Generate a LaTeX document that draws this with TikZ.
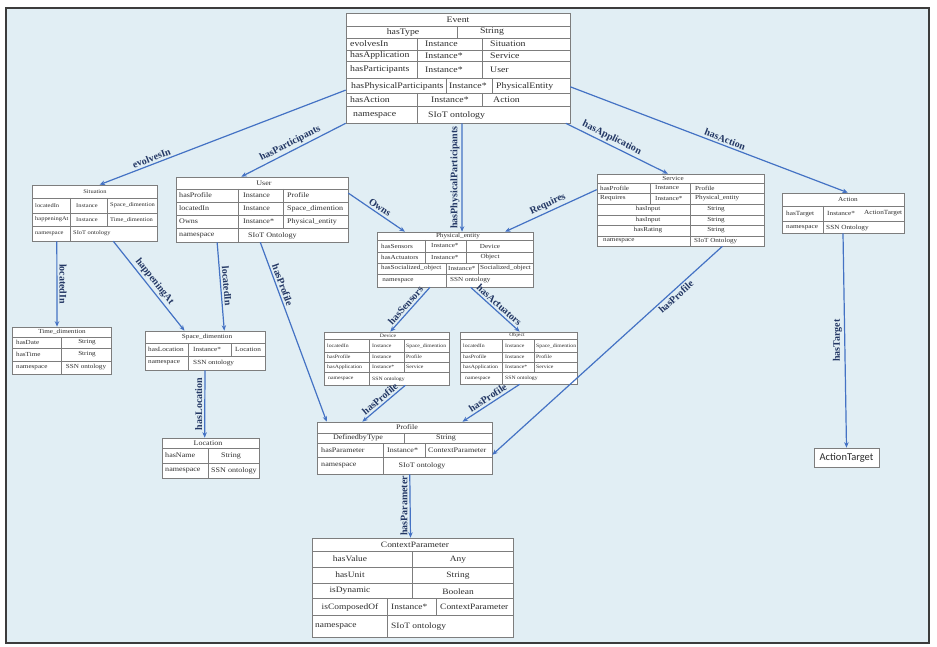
\documentclass[tikz,border=0pt]{standalone}
\usepackage{fontspec}
\setmainfont{Liberation Serif}
\newfontfamily\targetfont{Carlito}
\usetikzlibrary{calc,arrows.meta}

\definecolor{bgblue}{RGB}{225,238,244}
\definecolor{frameline}{RGB}{60,60,60}
\definecolor{tblline}{RGB}{125,125,125}
\definecolor{tbltext}{RGB}{45,45,45}
\definecolor{relblue}{RGB}{68,114,196}
\definecolor{lblnavy}{RGB}{35,55,100}

\newcommand{\tblsize}[1]{\fontsize{#1}{#1}\selectfont}

\tikzset{
  tbl/.style={draw=tblline, fill=white, line width=0.6pt, inner sep=0pt},
  sep/.style={draw=tblline, line width=0.5pt},
  cell/.style={inner sep=0pt, xscale=1.15, text=tbltext},
  rel/.style={draw=relblue, line width=1.2pt, -{Stealth[length=5.5pt,width=4.5pt]}},
  lbl/.style={font=\fontsize{10}{12}\selectfont\bfseries, text=lblnavy, inner sep=2pt}
}

\begin{document}
\begin{tikzpicture}[x=1pt,y=-1pt]
\useasboundingbox (0,0) rectangle (937,647);
\draw[frameline, line width=1.5pt, fill=bgblue] (6,8) rectangle (929,643);

% Event
\begin{scope}[font=\tblsize{8.5}]
\node[tbl, minimum width=224pt, minimum height=110pt] (event) at (458,68) {};
\foreach \y in {26,38,50,61,78,93,106}
  \draw[sep] (346,\y) -- (570,\y);
\draw[sep] (457,26) -- (457,38) (417,38) -- (417,78) (482,38) -- (482,78)
  (446,78) -- (446,93) (492,78) -- (492,93) (417,93) -- (417,123) (482,93) -- (482,106);
\node[cell] (ev-t) at (458,19.5) {Event};
\node[cell] (ev-ty) at (403,32) {hasType};
\node[cell] (ev-st) at (492,32) {String};
\foreach \y/\nm/\ty/\rg [count=\i] in {44/evolvesIn/Instance/Situation,
    55.5/hasApplication/Instance*/Service, 69.5/hasParticipants/Instance*/User}
{
  \node[cell, anchor=west] (ev-n\i) at (350,\y) {\nm};
  \node[cell, anchor=west] (ev-k\i) at (425,\y) {\ty};
  \node[cell, anchor=west] (ev-r\i) at (490,\y) {\rg};
}
\node[cell, anchor=west] (ev-n4) at (351,86) {hasPhysicalParticipants};
\node[cell, anchor=west] (ev-k4) at (449,86) {Instance*};
\node[cell, anchor=west] (ev-r4) at (496,86) {PhysicalEntity};
\node[cell, anchor=west] (ev-n5) at (350,99.5) {hasAction};
\node[cell, anchor=west] (ev-k5) at (431,99.5) {Instance*};
\node[cell, anchor=west] (ev-r5) at (493,99.5) {Action};
\node[cell, anchor=west] (ev-ns) at (353,115) {namespace};
\node[cell, anchor=west] (ev-nv) at (428,115) {SIoT ontology};
\end{scope}

% Situation
\begin{scope}[font=\tblsize{5.6}]
\node[tbl, minimum width=125pt, minimum height=56pt] (sit) at (94.5,213) {};
\foreach \y in {198,213,226}
  \draw[sep] (32,\y) -- (157,\y);
\draw[sep] (70,198) -- (70,241) (107,198) -- (107,226);
\node[cell] (sit-t) at (95,192) {Situation};
\foreach \y/\nm/\rg [count=\i] in {205.5/locatedIn/Space\_dimention, 219.5/happeningAt/Time\_dimention}
{
  \node[cell, anchor=west] (sit-n\i) at (35,\y) {\nm};
  \node[cell, anchor=west] (sit-k\i) at (76,\y) {Instance};
  \node[cell, anchor=west] (sit-r\i) at (110,\y) {\rg};
}
\node[cell, anchor=west] (sit-ns) at (35,233.5) {namespace};
\node[cell, anchor=west] (sit-nv) at (73,233.5) {SIoT ontology};
\end{scope}

% Time_dimention
\begin{scope}[font=\tblsize{6.2}]
\node[tbl, minimum width=99pt, minimum height=47pt] (tim) at (61.5,350.5) {};
\foreach \y in {337,348,361}
  \draw[sep] (12,\y) -- (111,\y);
\draw[sep] (61,337) -- (61,374);
\node[cell] (tim-t) at (62,332) {Time\_dimention};
\node[cell, anchor=west] (tim-n1) at (16,342.5) {hasDate};
\node[cell] (tim-r1) at (87,342.5) {String};
\node[cell, anchor=west] (tim-n2) at (16,354.5) {hasTime};
\node[cell] (tim-r2) at (87,354.5) {String};
\node[cell, anchor=west] (tim-ns) at (16,367.5) {namespace};
\node[cell] (tim-nv) at (86,367.5) {SSN ontology};
\end{scope}

% User
\begin{scope}[font=\tblsize{7}]
\node[tbl, minimum width=172pt, minimum height=65pt] (user) at (262,209.5) {};
\foreach \y in {189,202,215,228}
  \draw[sep] (176,\y) -- (348,\y);
\draw[sep] (238,189) -- (238,242) (283,189) -- (283,228);
\node[cell] (user-t) at (264,183) {User};
\foreach \y/\nm/\ty/\rg [count=\i] in {195.5/hasProfile/Instance/Profile,
    208.5/locatedIn/Instance/Space\_dimention, 221.5/Owns/Instance*/Physical\_entity}
{
  \node[cell, anchor=west] (user-n\i) at (179,\y) {\nm};
  \node[cell, anchor=west] (user-k\i) at (243,\y) {\ty};
  \node[cell, anchor=west] (user-r\i) at (287,\y) {\rg};
}
\node[cell, anchor=west] (user-ns) at (179,235.5) {namespace};
\node[cell, anchor=west] (user-nv) at (248,235.5) {SIoT Ontology};
\end{scope}

% Space_dimention
\begin{scope}[font=\tblsize{6.3}]
\node[tbl, minimum width=120pt, minimum height=39pt] (spc) at (205,350.5) {};
\foreach \y in {343,356}
  \draw[sep] (145,\y) -- (265,\y);
\draw[sep] (188,343) -- (188,370) (231,343) -- (231,356);
\node[cell] (spc-t) at (207,337) {Space\_dimention};
\node[cell, anchor=west] (spc-n1) at (148,349.5) {hasLocation};
\node[cell, anchor=west] (spc-k1) at (193,349.5) {Instance*};
\node[cell, anchor=west] (spc-r1) at (235,349.5) {Location};
\node[cell, anchor=west] (spc-ns) at (148,363) {namespace};
\node[cell, anchor=west] (spc-nv) at (193,363) {SSN ontology};
\end{scope}

% Location
\begin{scope}[font=\tblsize{7}]
\node[tbl, minimum width=97pt, minimum height=40pt] (loc) at (210.5,458) {};
\foreach \y in {448,463}
  \draw[sep] (162,\y) -- (259,\y);
\draw[sep] (208,448) -- (208,478);
\node[cell] (loc-t) at (208,443.5) {Location};
\node[cell, anchor=west] (loc-n1) at (165,455.5) {hasName};
\node[cell] (loc-r1) at (231,455.5) {String};
\node[cell, anchor=west] (loc-ns) at (165,470.5) {namespace};
\node[cell, anchor=west] (loc-nv) at (211,470.5) {SSN ontology};
\end{scope}

% Physical_entity
\begin{scope}[font=\tblsize{6.2}]
\node[tbl, minimum width=156pt, minimum height=55pt] (phys) at (455,259.5) {};
\foreach \y in {240,252,263,274}
  \draw[sep] (377,\y) -- (533,\y);
\draw[sep] (425,240) -- (425,263) (466,240) -- (466,263)
  (446,263) -- (446,287) (478,263) -- (478,274);
\node[cell] (phys-t) at (458,236) {Physical\_entity};
\foreach \y/\nm/\rg [count=\i] in {246/hasSensors/Device, 257.5/hasActuators/Object}
{
  \node[cell, anchor=west] (phys-n\i) at (381,\y) {\nm};
  \node[cell, anchor=west] (phys-k\i) at (431,\y) {Instance*};
  \node[cell] (phys-r\i) at (490,\y) {\rg};
}
\node[cell, anchor=west] (phys-n3) at (381,268.5) {hasSocialized\_object};
\node[cell, anchor=west] (phys-k3) at (448,268.5) {Instance*};
\node[cell, anchor=west] (phys-r3) at (480,268.5) {Socialized\_object};
\node[cell] (phys-ns) at (398,280.5) {namespace};
\node[cell, anchor=west] (phys-nv) at (450,280.5) {SSN ontology};
\end{scope}

% Service
\begin{scope}[font=\tblsize{6.2}]
\node[tbl, minimum width=167pt, minimum height=72pt] (srv) at (680.5,210) {};
\foreach \y in {183,193,204,215,225,236}
  \draw[sep] (597,\y) -- (764,\y);
\draw[sep] (650,183) -- (650,204) (690,183) -- (690,246);
\node[cell] (srv-t) at (673,178.5) {Service};
\foreach \y/\nm/\ty/\rg [count=\i] in {188/hasProfile/Instance/Profile,
    198.5/Requires/Instance*/Physical\_entity}
{
  \node[cell, anchor=west] (srv-n\i) at (600,\y) {\nm};
  \node[cell, anchor=west] (srv-k\i) at (655,\y) {\ty};
  \node[cell, anchor=west] (srv-r\i) at (695,\y) {\rg};
}
\foreach \y/\nm [count=\i] in {209.5/hasInput, 220/hasInput, 230.5/hasRating}
{
  \node[cell] (srv-d\i) at (648,\y) {\nm};
  \node[cell] (srv-s\i) at (716,\y) {String};
}
\node[cell, anchor=west] (srv-ns) at (603,241) {namespace};
\node[cell, anchor=west] (srv-nv) at (694,241) {SIoT Ontology};
\end{scope}

% Action
\begin{scope}[font=\tblsize{6.3}]
\node[tbl, minimum width=122pt, minimum height=40pt] (act) at (843,213) {};
\foreach \y in {206,221}
  \draw[sep] (782,\y) -- (904,\y);
\draw[sep] (823,206) -- (823,233);
\node[cell] (act-t) at (848,199.5) {Action};
\node[cell, anchor=west] (act-n1) at (786,213.5) {hasTarget};
\node[cell, anchor=west] (act-k1) at (827,213.5) {Instance*};
\node[cell, anchor=west] (act-r1) at (864,213.5) {ActionTarget};
\node[cell, anchor=west] (act-ns) at (786,227.5) {namespace};
\node[cell, anchor=west] (act-nv) at (826,227.5) {SSN Ontology};
\end{scope}

% ActionTarget
\node[tbl, minimum width=65pt, minimum height=19pt, font=\targetfont\fontsize{10.5}{12}\selectfont, text=tbltext]
  (tgt) at (846.5,457.5) {ActionTarget};

% Device and Object
\begin{scope}[font=\tblsize{5.0}]
\node[tbl, minimum width=125pt, minimum height=53pt] (dev) at (386.5,358.5) {};
\node[tbl, minimum width=117pt, minimum height=52pt] (obj) at (518.5,358) {};
\foreach \y in {339,352,362,372}
  \draw[sep] (324,\y) -- (449,\y) (460,\y) -- (577,\y);
\draw[sep] (369,339) -- (369,385) (404,339) -- (404,372)
  (502,339) -- (502,384) (534,339) -- (534,372);
\node[cell] (dev-t) at (388,335.5) {Device};
\node[cell] (obj-t) at (517,335.5) {Object};
\foreach \y/\nm/\ty/\rg [count=\i] in {346/locatedIn/Instance/Space\_dimention,
    357/hasProfile/Instance/Profile, 367/hasApplication/Instance*/Service}
{
  \node[cell, anchor=west] (dev-n\i) at (327,\y) {\nm};
  \node[cell, anchor=west] (dev-k\i) at (372,\y) {\ty};
  \node[cell, anchor=west] (dev-r\i) at (406,\y) {\rg};
  \node[cell, anchor=west] (obj-n\i) at (463,\y) {\nm};
  \node[cell, anchor=west] (obj-k\i) at (505,\y) {\ty};
  \node[cell, anchor=west] (obj-r\i) at (536,\y) {\rg};
}
\node[cell, anchor=west] (dev-ns) at (328,379) {namespace};
\node[cell, anchor=west] (dev-nv) at (372,379) {SSN ontology};
\node[cell, anchor=west] (obj-ns) at (465,378.5) {namespace};
\node[cell, anchor=west] (obj-nv) at (505,378.5) {SSN ontology};
\end{scope}

% Profile
\begin{scope}[font=\tblsize{7}]
\node[tbl, minimum width=175pt, minimum height=52pt] (prof) at (404.5,448) {};
\foreach \y in {433,443,457}
  \draw[sep] (317,\y) -- (492,\y);
\draw[sep] (404,433) -- (404,443) (383,443) -- (383,474) (425,443) -- (425,457);
\node[cell] (prof-t) at (407,427.5) {Profile};
\node[cell] (prof-ty) at (358,438) {DefinedbyType};
\node[cell] (prof-st) at (446,438) {String};
\node[cell, anchor=west] (prof-n1) at (321,450) {hasParameter};
\node[cell, anchor=west] (prof-k1) at (387,450) {Instance*};
\node[cell, anchor=west] (prof-r1) at (428,450) {ContextParameter};
\node[cell, anchor=west] (prof-ns) at (321,465.5) {namespace};
\node[cell] (prof-nv) at (422,465.5) {SIoT ontology};
\end{scope}

% ContextParameter
\begin{scope}[font=\tblsize{8.2}]
\node[tbl, minimum width=201pt, minimum height=99pt] (cp) at (412.5,587.5) {};
\foreach \y in {551,567,583,598,615}
  \draw[sep] (312,\y) -- (513,\y);
\draw[sep] (412,551) -- (412,598) (387,598) -- (387,637) (436,598) -- (436,615);
\node[cell] (cp-t) at (415,545) {ContextParameter};
\foreach \y/\nm/\rg [count=\i] in {559/hasValue/Any, 575/hasUnit/String, 590.5/isDynamic/Boolean}
{
  \node[cell] (cp-n\i) at (350,\y) {\nm};
  \node[cell] (cp-r\i) at (458,\y+1) {\rg};
}
\node[cell] (cp-n4) at (350,607) {isComposedOf};
\node[cell, anchor=west] (cp-k4) at (391,607) {Instance*};
\node[cell, anchor=west] (cp-r4) at (440,607) {ContextParameter};
\node[cell, anchor=west] (cp-ns) at (315,626.5) {namespace};
\node[cell, anchor=west] (cp-nv) at (391,626.5) {SIoT ontology};
\end{scope}

% relations
\draw[rel] ($(event.north west)!0.7!(event.south west)$) -- ($(sit.north west)!0.54!(sit.north east)$)
  node[lbl, pos=0.78, sloped, above] (l-evolves) {evolvesIn};
\draw[rel] (event.south west) -- ($(user.north west)!0.38!(user.north east)$)
  node[lbl, midway, sloped, above] (l-part) {hasParticipants};
\draw[rel] ($(event.south west)!0.518!(event.south east)$) -- ($(phys.north west)!0.545!(phys.north east)$)
  node[lbl, midway, rotate=90, anchor=south] (l-phys) {hasPhysicalParticipants};
\draw[rel] ($(event.south west)!0.98!(event.south east)$) -- ($(srv.north west)!0.425!(srv.north east)$)
  node[lbl, pos=0.42, sloped, above] (l-app) {hasApplication};
\draw[rel] ($(event.north east)!0.67!(event.south east)$) -- ($(act.north west)!0.54!(act.north east)$)
  node[lbl, pos=0.55, sloped, above] (l-act) {hasAction};
\draw[rel] ($(user.north east)!0.25!(user.south east)$) -- ($(phys.north west)!0.18!(phys.north east)$)
  node[lbl, midway, sloped, above] (l-owns) {Owns};
\draw[rel] ($(srv.north west)!0.22!(srv.south west)$) -- ($(phys.north west)!0.82!(phys.north east)$)
  node[lbl, midway, sloped, above] (l-req) {Requires};
\draw[rel] ($(sit.south west)!0.2!(sit.south east)$) -- ($(tim.north west)!0.455!(tim.north east)$)
  node[lbl, midway, rotate=-90, anchor=south] (l-loc1) {locatedIn};
\draw[rel] ($(sit.south west)!0.65!(sit.south east)$) -- ($(spc.north west)!0.33!(spc.north east)$)
  node[lbl, midway, sloped, above] (l-hap) {happeningAt};
\draw[rel] ($(user.south west)!0.24!(user.south east)$) -- ($(spc.north west)!0.66!(spc.north east)$)
  node[lbl, midway, sloped, above] (l-loc2) {locatedIn};
\draw[rel] ($(user.south west)!0.49!(user.south east)$) -- ($(prof.north west)!0.057!(prof.north east)$)
  node[lbl, pos=0.25, sloped, above] (l-prof1) {hasProfile};
\draw[rel] (spc.south) -- ($(loc.north west)!0.44!(loc.north east)$)
  node[lbl, midway, rotate=90, anchor=south] (l-hloc) {hasLocation};
\draw[rel] ($(phys.south west)!0.34!(phys.south east)$) -- ($(dev.north west)!0.53!(dev.north east)$)
  node[lbl, midway, sloped, above] (l-sens) {hasSensors};
\draw[rel] ($(phys.south west)!0.6!(phys.south east)$) -- ($(obj.north west)!0.51!(obj.north east)$)
  node[lbl, midway, sloped, above] (l-actu) {hasActuators};
\draw[rel] ($(dev.south west)!0.65!(dev.south east)$) -- ($(prof.north west)!0.26!(prof.north east)$)
  node[lbl, midway, sloped, above] (l-prof2) {hasProfile};
\draw[rel] ($(obj.south west)!0.51!(obj.south east)$) -- ($(prof.north west)!0.83!(prof.north east)$)
  node[lbl, midway, sloped, above] (l-prof3) {hasProfile};
\draw[rel] ($(srv.south west)!0.75!(srv.south east)$) -- ($(prof.north east)!0.63!(prof.south east)$)
  node[lbl, pos=0.22, sloped, below] (l-prof4) {hasProfile};
\draw[rel] ($(prof.south west)!0.53!(prof.south east)$) -- ($(cp.north west)!0.49!(cp.north east)$)
  node[lbl, midway, rotate=90, anchor=south] (l-par) {hasParameter};
\draw[rel] (act.south) -- (tgt.north)
  node[lbl, midway, rotate=90, anchor=south] (l-tgt) {hasTarget};

\end{tikzpicture}
\end{document}
